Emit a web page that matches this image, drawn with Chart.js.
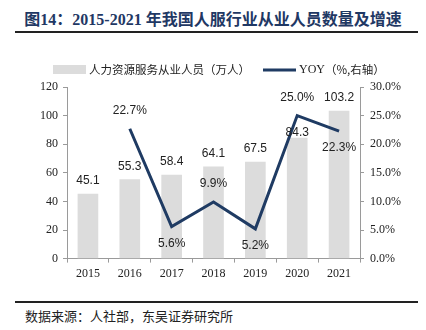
<!DOCTYPE html>
<html>
<head>
<meta charset="utf-8">
<script src="https://cdn.jsdelivr.net/npm/chart.js@4"></script>
<style>
  body { margin:0; background:#fff; width:426px; height:330px; position:relative; overflow:hidden; }
  #title { position:absolute; left:0; width:426px; top:6px; text-align:center; font:bold 16px "Liberation Serif","Noto Sans CJK SC",serif; color:#1f3864; white-space:nowrap; }
  .rule { position:absolute; left:15px; width:403px; height:2px; background:#222; }
  #source { position:absolute; left:25px; top:306px; font:13px "Liberation Serif","Noto Sans CJK SC",serif; color:#222; }
  #wrap { position:absolute; left:0; top:40px; width:426px; height:245px; }
</style>
</head>
<body>
<div id="title">图14：2015-2021 年我国人服行业从业人员数量及增速</div>
<div class="rule" style="top:31px"></div>
<div id="wrap"><canvas id="ch-staff"></canvas></div>
<div class="rule" style="top:301px"></div>
<div id="source">数据来源：人社部，东吴证券研究所</div>
<script>
// ====================== DATA ======================
const years    = ['2015','2016','2017','2018','2019','2020','2021'];
const staff    = [45.1, 55.3, 58.4, 64.1, 67.5, 84.3, 103.2];   // 万人
const yoy      = [null, 22.7, 5.6, 9.9, 5.2, 25.0, 22.3];      // %
const leftTicks  = [0, 20, 40, 60, 80, 100, 120];
const rightTicks = [0, 5, 10, 15, 20, 25, 30];

const barLabel  = '人力资源服务从业人员（万人）';
const lineLabel = 'YOY（%,右轴）';

// label placement: 1 = above point, -1 = below point
const yoyLabelSide = [0, 1, -1, 1, -1, 1, -1];

const BAR_COLOR  = '#dcdcdc';
const LINE_COLOR = '#1f3b63';
const AXIS_COLOR = '#9a9a9a';
const SERIF = '"Liberation Serif", serif';
const SANS  = '"Liberation Sans", Arial, sans-serif';

// ====================== PLUGINS ======================
const legendPlugin = {
  id: 'customLegend',
  afterDraw(chart) {
    const ctx = chart.ctx;
    ctx.save();
    ctx.fillStyle = BAR_COLOR;
    ctx.fillRect(53, 25, 33, 9);
    ctx.strokeStyle = LINE_COLOR;
    ctx.lineWidth = 3;
    ctx.beginPath(); ctx.moveTo(263, 30); ctx.lineTo(296, 30); ctx.stroke();
    ctx.fillStyle = '#222';
    ctx.font = '11.5px "Noto Sans CJK SC", sans-serif';
    ctx.textBaseline = 'middle';
    ctx.fillText(barLabel, 89, 30);
    ctx.font = '12px ' + SERIF;
    const w = ctx.measureText('YOY').width;
    ctx.fillText('YOY', 299, 30);
    ctx.font = '11.5px "Noto Sans CJK SC", sans-serif';
    ctx.fillText('（%,右轴）', 299 + w, 30);
    ctx.restore();
  }
};

const valuePlugin = {
  id: 'valueLabels',
  afterDatasetsDraw(chart) {
    const ctx = chart.ctx;
    ctx.save();
    ctx.font = '12px ' + SANS;
    ctx.fillStyle = '#222';
    ctx.textAlign = 'center';
    ctx.textBaseline = 'middle';
    chart.getDatasetMeta(1).data.forEach((bar, i) => {
      const dy = i === 5 ? -5 : -13;   // 2020 label sits over the bar top
      ctx.fillText(staff[i].toFixed(1), bar.x, bar.y + dy);
    });
    chart.getDatasetMeta(0).data.forEach((pt, i) => {
      if (yoy[i] == null) return;
      const dy = yoyLabelSide[i] > 0 ? -18 : 17;
      ctx.fillText(yoy[i].toFixed(1) + '%', pt.x, pt.y + dy);
    });
    ctx.restore();
  }
};

// ====================== CHART ======================
new Chart(document.getElementById('ch-staff'), {
  data: {
    labels: years,
    datasets: [
      { type:'line', label: lineLabel, data: yoy, yAxisID:'y1', borderColor: LINE_COLOR, borderWidth: 3,
        pointRadius: 0, tension: 0, spanGaps: false, order: 0 },
      { type:'bar', label: barLabel, data: staff, yAxisID:'y', backgroundColor: BAR_COLOR,
        barThickness: 20, order: 1 }
    ]
  },
  options: {
    responsive:true, maintainAspectRatio:false, animation:false,
    layout:{ padding:{ top:47, left:0, right:0, bottom:0 } },
    plugins:{ legend:{ display:false }, tooltip:{ enabled:false } },
    scales:{
      x:{
        grid:{ drawOnChartArea:false, drawTicks:true, tickLength:4, color:AXIS_COLOR, offset:true },
        border:{ color:AXIS_COLOR },
        ticks:{ font:{ family:SERIF, size:12 }, color:'#222', padding:4, maxRotation:0 }
      },
      y:{
        position:'left', min:0, max:120,
        afterBuildTicks: s => { s.ticks = leftTicks.map(v => ({ value:v })); },
        afterFit: s => { s.width = 67; },
        grid:{ drawOnChartArea:false, drawTicks:true, tickLength:4, color:AXIS_COLOR },
        border:{ color:AXIS_COLOR },
        ticks:{ font:{ family:SERIF, size:12 }, color:'#222', padding:5 }
      },
      y1:{
        position:'right', min:0, max:30,
        afterBuildTicks: s => { s.ticks = rightTicks.map(v => ({ value:v })); },
        afterFit: s => { s.width = 66; },
        grid:{ drawOnChartArea:false, drawTicks:true, tickLength:4, color:AXIS_COLOR },
        border:{ color:AXIS_COLOR },
        ticks:{ font:{ family:SERIF, size:12 }, color:'#222', padding:6, callback: v => v.toFixed(1) + '%' }
      }
    }
  },
  plugins:[legendPlugin, valuePlugin]
});
</script>
</body>
</html>
